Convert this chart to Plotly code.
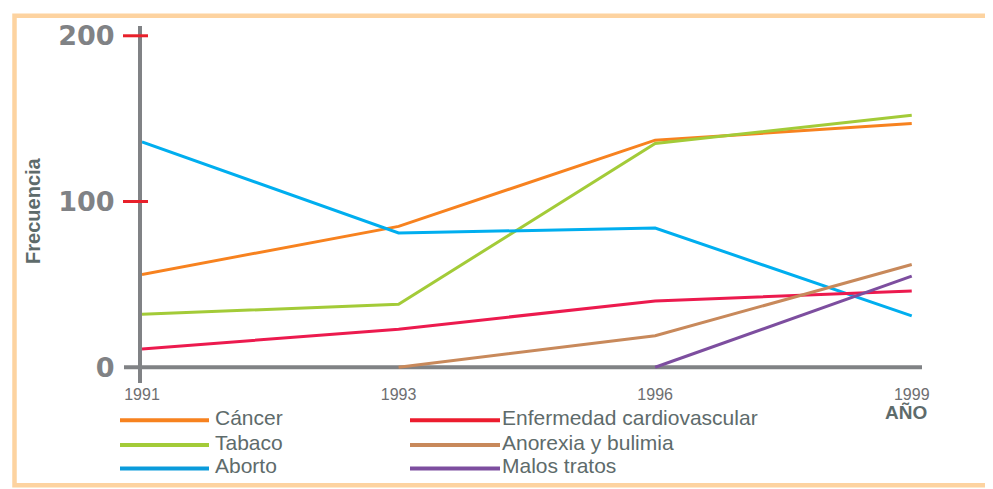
import plotly.graph_objects as go

years = ["1991", "1993", "1996", "1999"]
series_names = ["Cáncer", "Tabaco", "Aborto",
                "Enfermedad cardiovascular", "Anorexia y bulimia", "Malos tratos"]
cancer = [56, 85, 137, 147]
tabaco = [32, 38, 135, 152]
aborto = [136, 81, 84, 31]
cardio = [11, 23, 40, 46]
anorexia = [None, 0, 19, 62]
malos = [None, None, 0, 55]
y_ticks = [0, 100, 200]
y_tick_labels = ["0", "100", "200"]

values = [cancer, tabaco, aborto, cardio, anorexia, malos]
colors = ["#F7821F", "#A3CB38", "#00AEEF", "#EC1A4E", "#C8895B", "#7D4E9F"]
legend_colors = ["#F7821F", "#A3CB38", "#0A9BDB", "#EC1C2E", "#C8895B", "#7D4E9F"]

OFF = 8  # page body margin
W, H = 993 - OFF, 489 - OFF
L, R, T, B = 142 - OFF, 71, 20 - OFF, 106
PW, PH = W - L - R, H - T - B


def px(x):
    return (x - OFF - L) / PW


def py(y):
    return (H - B - (y - OFF)) / PH


GRAY = "#808285"
TEXT = "#5E6B6B"

fig = go.Figure()
for name, vals, col in zip(series_names, values, colors):
    fig.add_trace(go.Scatter(x=years, y=vals, mode="lines", name=name,
                             line=dict(color=col, width=3), showlegend=False,
                             connectgaps=False))

shapes = []
# frame
shapes.append(dict(type="rect", xref="paper", yref="paper",
                   x0=px(14.5), x1=px(990.5), y0=py(487), y1=py(9.5),
                   line=dict(color="#FDD3A0", width=4.5), layer="below"))
# horizontal axis (with its tick at 0)
shapes.append(dict(type="line", xref="paper", yref="y",
                   x0=px(124), x1=1, y0=0, y1=0,
                   line=dict(color=GRAY, width=4), layer="below"))
# red ticks
for v in y_ticks[1:]:
    shapes.append(dict(type="line", xref="paper", yref="y",
                       x0=px(123), x1=px(148), y0=v, y1=v,
                       line=dict(color="#E8202A", width=3), layer="above"))

annotations = []
# custom legend
col_x = [(120, 209, 213), (410, 500, 500)]
row_y = [(421, 418), (446, 443), (470, 467)]
for i, (name, col) in enumerate(zip(series_names, legend_colors)):
    c, r = divmod(i, 3)
    lx0, lx1, tx = col_x[c]
    ly, ty = row_y[r]
    shapes.append(dict(type="line", xref="paper", yref="paper",
                       x0=px(lx0), x1=px(lx1), y0=py(ly), y1=py(ly),
                       line=dict(color=col, width=4)))
    annotations.append(dict(xref="paper", yref="paper", x=px(tx), y=py(ty),
                            text=name, showarrow=False, xanchor="left",
                            yanchor="middle",
                            font=dict(family="Liberation Sans", size=21, color=TEXT)))

annotations.append(dict(xref="paper", yref="paper", x=px(906), y=py(413),
                        text="<b>AÑO</b>", showarrow=False, xanchor="center",
                        yanchor="middle",
                        font=dict(family="Liberation Sans", size=19, color=TEXT)))
annotations.append(dict(xref="paper", yref="paper", x=px(33), y=py(208),
                        text="<b>Frecuencia</b>", showarrow=False, textangle=-90,
                        xanchor="center", yanchor="middle",
                        font=dict(family="Liberation Sans", size=20, color=TEXT)))

fig.update_layout(
    width=W, height=H,
    margin=dict(l=L, r=R, t=T, b=B),
    paper_bgcolor="white", plot_bgcolor="white",
    shapes=shapes, annotations=annotations,
    xaxis=dict(type="category", range=[0, 3.04], showgrid=False, zeroline=False,
               showline=False, ticks="", tickvals=years, ticktext=years,
               tickfont=dict(family="Liberation Sans", size=16, color="#6D6E71")),
    yaxis=dict(range=[-9.5, 205.9], showgrid=False, zeroline=False,
               showline=True, linecolor=GRAY, linewidth=4, ticks="",
               tickvals=y_ticks, ticktext=y_tick_labels, ticklabelstandoff=18,
               tickfont=dict(family="DejaVu Sans", size=27, color=GRAY, weight="bold")),
)

fig.write_html("out.html")
